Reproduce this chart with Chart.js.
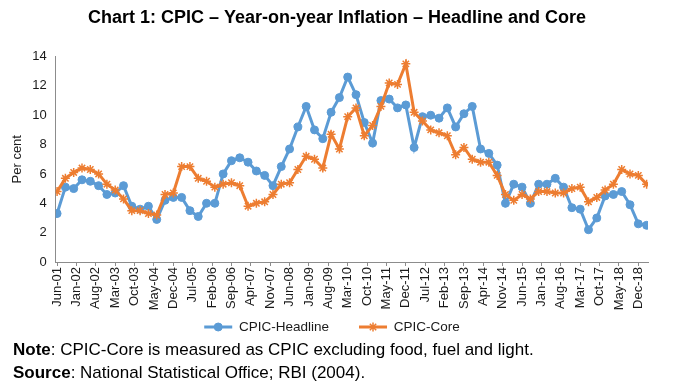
<!DOCTYPE html>
<html>
<head>
<meta charset="utf-8">
<script src="https://cdn.jsdelivr.net/npm/chart.js@4.4.1/dist/chart.umd.min.js"></script>
<style>
  html, body { margin: 0; padding: 0; background: #fff; }
  #wrap { position: relative; width: 674px; height: 390px; }
  #notes { position: absolute; left: 13px; top: 337.5px; font: 17px "Liberation Sans", Arial, sans-serif; color: #000; line-height: 23px; }
</style>
</head>
<body>
<div id="wrap">
  <canvas id="line-chart"></canvas>
  <div id="notes">
    <div><b>Note</b>: CPIC-Core is measured as CPIC excluding food, fuel and light.</div>
    <div><b>Source</b>: National Statistical Office; RBI (2004).</div>
  </div>
</div>
<script>
// quarterly observations
var quarters = ['Jun-01','Sep-01','Dec-01',
  'Mar-02','Jun-02','Sep-02','Dec-02',
  'Mar-03','Jun-03','Sep-03','Dec-03',
  'Mar-04','Jun-04','Sep-04','Dec-04',
  'Mar-05','Jun-05','Sep-05','Dec-05',
  'Mar-06','Jun-06','Sep-06','Dec-06',
  'Mar-07','Jun-07','Sep-07','Dec-07',
  'Mar-08','Jun-08','Sep-08','Dec-08',
  'Mar-09','Jun-09','Sep-09','Dec-09',
  'Mar-10','Jun-10','Sep-10','Dec-10',
  'Mar-11','Jun-11','Sep-11','Dec-11',
  'Mar-12','Jun-12','Sep-12','Dec-12',
  'Mar-13','Jun-13','Sep-13','Dec-13',
  'Mar-14','Jun-14','Sep-14','Dec-14',
  'Mar-15','Jun-15','Sep-15','Dec-15',
  'Mar-16','Jun-16','Sep-16','Dec-16',
  'Mar-17','Jun-17','Sep-17','Dec-17',
  'Mar-18','Jun-18','Sep-18','Dec-18',
  'Mar-19'];

var headline = [3.3, 5.1, 5.0,
  5.6, 5.5, 5.2, 4.6,
  4.7, 5.2, 3.8, 3.6,
  3.8, 2.9, 4.2, 4.4,
  4.4, 3.5, 3.1, 4.0,
  4.0, 6.0, 6.9, 7.1,
  6.8, 6.2, 5.9, 5.2,
  6.5, 7.7, 9.2, 10.6,
  9.0, 8.4, 10.2, 11.2,
  12.6, 11.4, 9.5, 8.1,
  11.0, 11.1, 10.5, 10.7,
  7.8, 9.9, 10.0, 9.8,
  10.5, 9.2, 10.1, 10.6,
  7.7, 7.4, 6.6, 4.0,
  5.3, 5.1, 4.0, 5.3,
  5.3, 5.7, 5.1, 3.7,
  3.6, 2.2, 3.0, 4.5,
  4.6, 4.8, 3.9, 2.6,
  2.5];

var core = [4.8, 5.7, 6.1,
  6.4, 6.3, 6.0, 5.3,
  4.9, 4.3, 3.5, 3.5,
  3.3, 3.2, 4.6, 4.7,
  6.5, 6.5, 5.7, 5.5,
  5.1, 5.3, 5.4, 5.2,
  3.8, 4.0, 4.1, 4.6,
  5.3, 5.4, 6.3, 7.2,
  7.0, 6.4, 8.7, 7.7,
  9.9, 10.5, 8.6, 9.3,
  10.6, 12.2, 12.1, 13.5,
  10.2, 9.6, 9.0, 8.8,
  8.6, 7.3, 7.8, 7.0,
  6.8, 6.8, 5.9, 4.6,
  4.2, 4.6, 4.3, 4.8,
  4.8, 4.7, 4.7, 5.0,
  5.1, 4.1, 4.4, 4.9,
  5.3, 6.3, 6.0, 5.9,
  5.3];

// axis labels shown every 7 months
var tickLabels = ['Jun-01','Jan-02','Aug-02','Mar-03','Oct-03','May-04','Dec-04',
  'Jul-05','Feb-06','Sep-06','Apr-07','Nov-07','Jun-08','Jan-09','Aug-09','Mar-10',
  'Oct-10','May-11','Dec-11','Jul-12','Feb-13','Sep-13','Apr-14','Nov-14','Jun-15',
  'Jan-16','Aug-16','Mar-17','Oct-17','May-18','Dec-18'];

var MONTHS = ['Jan','Feb','Mar','Apr','May','Jun','Jul','Aug','Sep','Oct','Nov','Dec'];

// months counted from Jun-01
function monthIndex(label) {
	var p = label.split('-');
	return (Number(p[1]) - 1) * 12 + MONTHS.indexOf(p[0]) - 5;
}

function toPoints(values) {
	return quarters.map(function (q, i) { return {x: monthIndex(q), y: values[i]}; });
}

var tickText = {};
tickLabels.forEach(function (l) { tickText[monthIndex(l)] = l; });

var FONT = '"Liberation Sans", Arial, sans-serif';
var TEXT = '#1a1a1a';
var AXIS = '#8c8c8c';
var RIGHT_PAD = 26;
var LEGEND_Y = 327;      // centre line of the legend row
var LEGEND_SHIFT = 8;    // legend sits a little right of the plot centre
var LEGEND_FS = 13.5, LEGEND_PAD = 30;

// title centred on the whole canvas, legend row pulled up under the axis labels,
// markers added on the legend lines
var tweaks = {
	id: 'tweaks',
	afterLayout: function (chart) {
		if (chart.titleBlock) chart.titleBlock.right += RIGHT_PAD;
		var lg = chart.legend;
		if (!lg) return;
		var d = lg.top + LEGEND_PAD + LEGEND_FS / 2 - LEGEND_Y;
		lg.top -= d;
		lg.bottom -= d;
		lg.left += LEGEND_SHIFT;
		lg.right += LEGEND_SHIFT;
	},
	afterDraw: function (chart) {
		var lg = chart.legend, ctx = chart.ctx;
		if (!lg || !lg.legendHitBoxes) return;
		var bw = lg.options.labels.boxWidth;
		lg.legendItems.forEach(function (item, i) {
			var box = lg.legendHitBoxes[i];
			var ds = chart.data.datasets[item.datasetIndex];
			ctx.save();
			ctx.fillStyle = ds.pointBackgroundColor;
			ctx.strokeStyle = ds.pointBorderColor;
			ctx.lineWidth = ds.pointBorderWidth;
			Chart.helpers.drawPoint(ctx, {pointStyle: ds.pointStyle, radius: ds.pointRadius, rotation: 0, borderWidth: ds.pointBorderWidth},
				box.left + bw / 2, LEGEND_Y);
			ctx.restore();
		});
	}
};

function myChart() {
	var el = document.getElementById('line-chart');
	el.width = 674;
	el.height = 390;
	el.style.width = '674px';
	el.style.height = '390px';

	new Chart(el, {
		type: 'line',
		data: {
			datasets: [{
				label: 'CPIC-Headline',
				data: toPoints(headline),
				borderColor: '#5B9BD5',
				backgroundColor: '#5B9BD5',
				borderWidth: 3,
				pointStyle: 'circle',
				pointRadius: 4,
				pointBackgroundColor: '#5B9BD5',
				pointBorderColor: '#5B9BD5',
				pointBorderWidth: 1,
				order: 1,
				fill: false
			}, {
				label: 'CPIC-Core',
				data: toPoints(core),
				borderColor: '#ED7D31',
				backgroundColor: '#ED7D31',
				borderWidth: 3,
				pointStyle: 'star',
				pointRadius: 4.5,
				pointBackgroundColor: '#ED7D31',
				pointBorderColor: '#ED7D31',
				pointBorderWidth: 1.5,
				order: 0,
				fill: false
			}]
		},
		options: {
			responsive: false,
			animation: false,
			// bottom: 390 - plot bottom (262) - x axis (50) - legend box
			layout: {padding: {left: 0, right: RIGHT_PAD, top: 0, bottom: 390 - 262 - 50 - (LEGEND_FS + LEGEND_PAD + 10)}},
			scales: {
				x: {
					type: 'linear',
					min: -0.5,
					max: 213.5,
					afterBuildTicks: function (s) {
						s.ticks = tickLabels.map(function (l) { return {value: monthIndex(l)}; });
					},
					afterFit: function (s) { s.height = 50; },
					grid: {display: true, drawOnChartArea: false, drawTicks: true, tickLength: 4, color: AXIS},
					border: {display: true, color: AXIS, width: 1},
					ticks: {
						autoSkip: false,
						maxRotation: 90,
						minRotation: 90,
						padding: 1,
						color: TEXT,
						font: {family: FONT, size: 13},
						callback: function (v) { return tickText[v]; }
					}
				},
				y: {
					min: 0,
					max: 14,
					afterFit: function (s) { s.width = 55.7; },
					grid: {display: false, drawTicks: false},
					border: {display: true, color: AXIS, width: 1},
					ticks: {stepSize: 2, padding: 9, color: TEXT, font: {family: FONT, size: 13}},
					title: {display: true, text: 'Per cent', color: TEXT, font: {family: FONT, size: 13}, padding: {top: 10, bottom: 0}}
				}
			},
			plugins: {
				title: {
					display: true,
					text: 'Chart 1: CPIC \u2013 Year-on-year Inflation \u2013 Headline and Core',
					color: '#000',
					font: {family: FONT, size: 18, weight: 'bold'},
					padding: {top: 7.5, bottom: 27.4}
				},
				legend: {
					position: 'bottom',
					labels: {
						boxWidth: 28,
						boxHeight: 3,
						padding: LEGEND_PAD,
						color: TEXT,
						font: {family: FONT, size: LEGEND_FS},
						sort: function (a, b) { return a.datasetIndex - b.datasetIndex; },
						generateLabels: function (chart) {
							var items = Chart.defaults.plugins.legend.labels.generateLabels(chart);
							items.forEach(function (it) { it.lineWidth = 0; });
							return items;
						}
					}
				},
				tooltip: {enabled: false}
			}
		},
		plugins: [tweaks]
	});
}
myChart();
</script>
</body>
</html>
